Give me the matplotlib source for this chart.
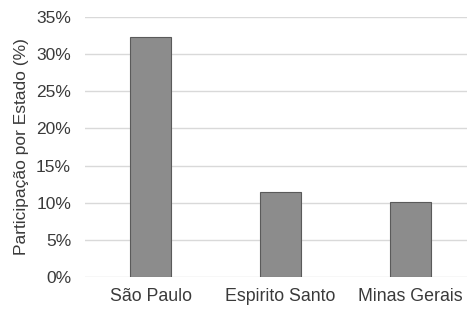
import matplotlib
matplotlib.use("Agg")
import matplotlib.pyplot as plt
from matplotlib.ticker import FuncFormatter

categories = ["São Paulo", "Espirito Santo", "Minas Gerais"]
values = [32.3, 11.4, 10.1]
yticks = [0, 5, 10, 15, 20, 25, 30, 35]

plt.rcParams['font.family'] = ['Liberation Sans', 'DejaVu Sans']

fig = plt.figure(figsize=(4.67, 3.14), dpi=100)
ax = fig.add_axes([85/467, 1-277/314, 1-85/467, (277-17)/314])

x = list(range(len(categories)))
ax.bar(x, values, width=0.315, color="#8c8c8c", edgecolor="#5a5a5a", linewidth=0.8, zorder=3)

ax.set_ylim(0, 35)
ax.set_xlim(-0.504, 2.435)
ax.set_yticks(yticks)
ax.yaxis.set_major_formatter(FuncFormatter(lambda v, p: f"{int(v)}%"))
ax.set_xticks(x)
ax.set_xticklabels(categories)
ax.grid(axis="y", color="#d9d9d9", linewidth=1.0, zorder=0)
for s in ax.spines.values():
    s.set_visible(False)
ax.tick_params(axis="y", length=0, pad=10, labelsize=12.5, labelcolor="#3a3a3a")
ax.tick_params(axis="x", length=0, pad=8, labelsize=12.8, labelcolor="#3a3a3a")
ax.set_ylabel("Participação por Estado (%)", fontsize=12.5, color="#3a3a3a", labelpad=5)

fig.savefig("out.png", dpi=100)
